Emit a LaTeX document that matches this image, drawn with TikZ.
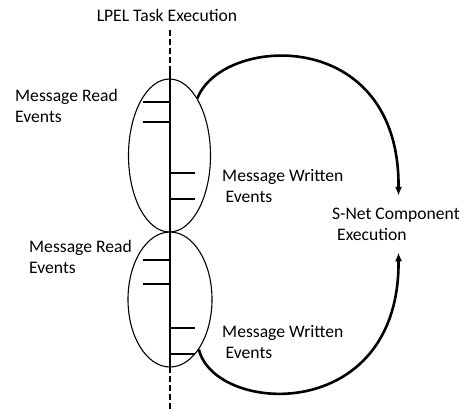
\documentclass[tikz,border=0pt]{standalone}
\usepackage{fontspec}
\setmainfont{Carlito}
\usepackage{tikz}
\usetikzlibrary{shapes.geometric,arrows.meta}

\tikzset{
  lbl/.style={align=left,inner xsep=0pt,inner ysep=0pt,font=\fontsize{17.6}{20.5}\selectfont},
  bound/.style={draw,ellipse,line width=1.1pt,inner sep=0pt},
  evtick/.style={line width=2.8pt},
  taskline/.style={line width=2.4pt},
  flow/.style={line width=2.6pt,-{Latex[length=9pt,width=7pt]}}
}

\begin{document}
\begin{tikzpicture}[x=1pt,y=-1pt]
                 \useasboundingbox (0,0) rectangle (466,412);
                 % task execution line
                 \node[bound,minimum width=82pt,minimum height=153pt](up)at(169.5,155.5){};
                 \node[bound,minimum width=84pt,minimum height=135pt](low)at(170,299.5){};
                 \coordinate (t0) at (170,30);
                 \coordinate (t1) at (170,67);
                 \coordinate (t2) at (170,367);
                 \coordinate (t3) at (170,409);
                 \draw[taskline,dash pattern=on 6pt off 3pt] (t0)--(t1);
                 \draw[taskline] (t1)--(t2);
                 \draw[taskline,dash pattern=on 6pt off 3pt] (t2)--(t3);
                 % events
                 \foreach \y in {102,122,260,284}
                   \draw[evtick] (143,\y)--(170,\y);
                 \foreach \y in {173,199,328,354}
                   \draw[evtick] (170,\y)--(195,\y);
                 % labels (base = last line)
                 \node[lbl,anchor=base](task)at(167,22){LPEL Task Execution};
                 \node[lbl,anchor=base west](rd1)at(15,122){Message Read\\Events};
                 \node[lbl,anchor=base west](rd2)at(29,273){Message Read\\Events};
                 \node[lbl,anchor=base west](wr1)at(222,202){Message Written\\\hspace*{3.5pt}Events};
                 \node[lbl,anchor=base west](wr2)at(222,358){Message Written\\\hspace*{3.5pt}Events};
                 \node[lbl,anchor=base west,inner ysep=12pt](snet)at(332,240){S-Net Component\\\hspace*{5pt}Execution};
                 % flows into the component
                 \draw[flow] (up.64) .. controls (222,35) and (400,25) .. ([xshift=2.5pt]snet.north);
                 \draw[flow] (low.-60) .. controls (215,415) and (400,425) .. ([xshift=2.5pt]snet.south);
               \end{tikzpicture}
\end{document}
